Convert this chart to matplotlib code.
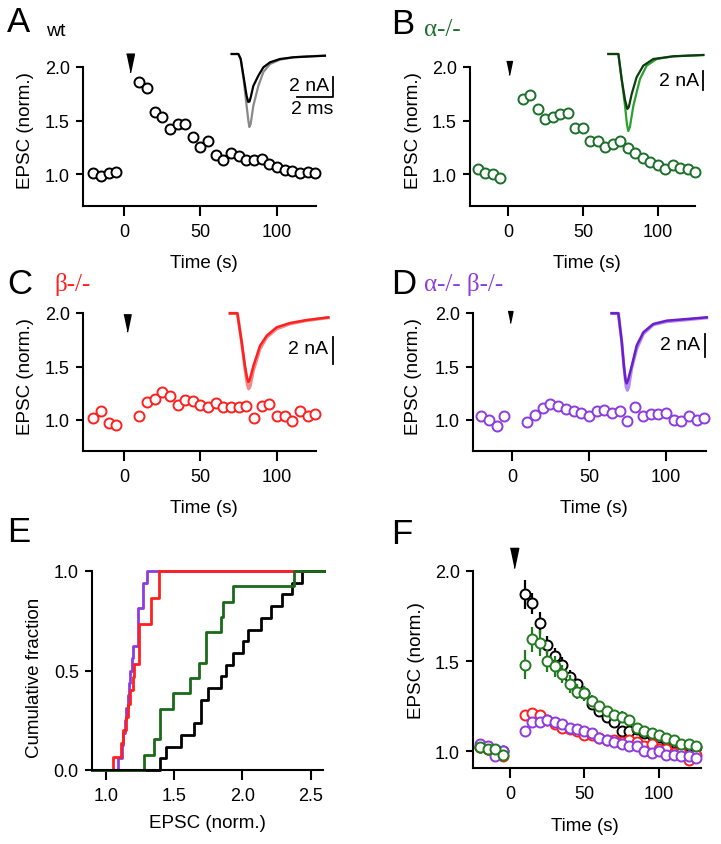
import numpy as np
import matplotlib.pyplot as plt
from matplotlib.ticker import FormatStrFormatter

plt.rcParams['font.family'] = ['Liberation Sans', 'DejaVu Sans']

W, H = 721, 845
fig = plt.figure(figsize=(W / 100, H / 100), dpi=100)

GREEN = '#1d6f2c'
RED = '#ff2020'
PURPLE = '#8c3ce0'

# ---- time course data (s, normalized EPSC) ----
t = [-20, -15, -10, -5, 10, 15, 20, 25, 30, 35, 40, 45, 50, 55, 60, 65, 70,
     75, 80, 85, 90, 95, 100, 105, 110, 115, 120, 125]

wt = [1.01, 0.98, 1.01, 1.02, 1.86, 1.80, 1.58, 1.53, 1.42, 1.47, 1.47, 1.35,
      1.25, 1.31, 1.18, 1.13, 1.20, 1.17, 1.13, 1.13, 1.14, 1.09, 1.07, 1.04,
      1.03, 1.01, 1.02, 1.01]
alpha_ko = [1.05, 1.01, 1.00, 0.96, 1.70, 1.74, 1.61, 1.51, 1.53, 1.56, 1.57,
            1.43, 1.43, 1.31, 1.31, 1.25, 1.28, 1.31, 1.24, 1.20, 1.15, 1.11,
            1.08, 1.05, 1.08, 1.06, 1.05, 1.02]
beta_ko = [1.02, 1.08, 0.97, 0.95, 1.04, 1.17, 1.20, 1.26, 1.22, 1.14, 1.19,
           1.18, 1.14, 1.12, 1.16, 1.12, 1.12, 1.12, 1.13, 1.02, 1.13, 1.15,
           1.04, 1.04, 0.99, 1.08, 1.04, 1.06]
dko = [1.04, 1.00, 0.94, 1.04, 0.98, 1.05, 1.11, 1.15, 1.13, 1.10, 1.08, 1.07,
       1.04, 1.08, 1.09, 1.07, 1.08, 0.99, 1.12, 1.04, 1.06, 1.06, 1.07, 1.00,
       0.99, 1.04, 1.00, 1.02]

# panel F averages
f_wt = [1.02, 1.01, 1.00, 1.00, 1.87, 1.82, 1.71, 1.59, 1.53, 1.48, 1.41, 1.37,
        1.32, 1.26, 1.22, 1.19, 1.16, 1.11, 1.11, 1.12, 1.10, 1.09, 1.08, 1.06,
        1.05, 1.03, 1.03, 1.02]
f_wt_err = [0.01, 0.01, 0.01, 0.01, 0.08, 0.06, 0.06, 0.05, 0.04, 0.04, 0.04,
            0.03, 0.03, 0.03, 0.03, 0.03, 0.03, 0.03, 0.03, 0.02, 0.02, 0.02,
            0.02, 0.02, 0.02, 0.02, 0.02, 0.02]
f_alpha = [1.02, 1.01, 1.01, 0.98, 1.48, 1.62, 1.60, 1.50, 1.47, 1.43, 1.37,
           1.33, 1.32, 1.28, 1.25, 1.22, 1.20, 1.19, 1.17, 1.13, 1.11, 1.10,
           1.09, 1.07, 1.06, 1.04, 1.04, 1.03]
f_alpha_err = [0.01, 0.01, 0.01, 0.01, 0.08, 0.07, 0.07, 0.06, 0.06, 0.05, 0.05,
               0.04, 0.04, 0.03, 0.03, 0.03, 0.03, 0.03, 0.02, 0.02, 0.02, 0.02,
               0.02, 0.02, 0.02, 0.02, 0.02, 0.02]
f_beta = [1.02, 1.01, 0.99, 0.97, 1.20, 1.21, 1.20, 1.17, 1.15, 1.13, 1.12, 1.11,
          1.09, 1.09, 1.07, 1.06, 1.06, 1.05, 1.06, 1.05, 1.03, 1.04, 1.01, 1.01,
          0.99, 0.99, 0.95, 0.98]
f_dko = [1.04, 1.03, 0.97, 1.00, 1.11, 1.16, 1.16, 1.17, 1.16, 1.15, 1.13, 1.12,
         1.11, 1.10, 1.07, 1.06, 1.05, 1.04, 1.03, 1.03, 1.00, 0.99, 1.00, 0.98,
         0.98, 0.97, 0.97, 0.96]

# panel E: per-cell potentiation values
e_wt = [1.395, 1.444, 1.554, 1.647, 1.695, 1.695, 1.749, 1.847, 1.878, 1.932,
        2.005, 2.04, 2.135, 2.21, 2.29, 2.36, 2.437]
e_alpha = [1.28, 1.35, 1.395, 1.395, 1.49, 1.615, 1.685, 1.735, 1.735, 1.845,
           1.86, 1.93, 2.38]
e_beta = [1.05, 1.11, 1.13, 1.15, 1.16, 1.18, 1.20, 1.21, 1.245, 1.245, 1.245,
          1.33, 1.33, 1.39, 1.39]
e_dko = [1.09, 1.12, 1.13, 1.14, 1.15, 1.16, 1.17, 1.18, 1.19, 1.20, 1.24, 1.24,
         1.24, 1.27, 1.27, 1.30]

# example EPSC traces (ms, nA)
trA_t1 = [0, 0.37, 0.5, 0.68, 0.83, 0.92, 0.98, 1.05, 1.11, 1.2, 1.48, 1.76, 2.13, 2.68, 3.42, 4.17, 5.18]
trA_i1 = [0, 0, -0.5, -2.8, -5.2, -6.6, -7.3, -7.0, -6.3, -5.2, -3.2, -1.8, -1.0, -0.57, -0.33, -0.23, -0.17]
trA_t0 = [0, 0.37, 0.5, 0.68, 0.83, 0.92, 0.99, 1.06, 1.2, 1.48, 1.76, 2.13, 2.68, 3.42, 5.18]
trA_i0 = [0, 0, -0.5, -2.5, -4.2, -4.8, -4.75, -4.3, -3.2, -2.17, -1.33, -0.83, -0.5, -0.33, -0.17]
trB_t1 = [0, 0.56, 0.74, 0.93, 1.04, 1.11, 1.2, 1.39, 1.76, 2.13, 2.69, 3.61, 5.28]
trB_i1 = [0, 0, -2.5, -5.2, -7.1, -7.7, -7.3, -5.2, -2.5, -1.17, -0.5, -0.23, -0.1]
trB_t0 = [0, 0.56, 0.74, 0.93, 1.06, 1.14, 1.3, 1.57, 1.94, 2.5, 3.61, 5.28]
trB_i0 = [0, 0, -2.5, -4.6, -5.5, -5.3, -4.0, -2.33, -1.17, -0.5, -0.23, -0.1]
trC_t1 = [0, 0.41, 0.65, 0.83, 0.96, 1.04, 1.12, 1.3, 1.67, 2.04, 2.59, 3.33, 4.26, 5.46]
trC_i1 = [0, 0, -2.2, -4.1, -5.3, -5.6, -5.4, -4.25, -2.64, -1.78, -1.16, -0.79, -0.54, -0.33]
trC_t0 = [0, 0.41, 0.65, 0.83, 0.95, 1.02, 1.1, 1.3, 1.67, 2.04, 2.59, 3.33, 4.26, 5.46]
trC_i0 = [0, 0, -2.15, -3.9, -4.8, -5.1, -4.9, -3.9, -2.4, -1.66, -1.04, -0.72, -0.5, -0.3]
trD_t1 = [0, 0.37, 0.56, 0.68, 0.8, 0.87, 0.95, 1.11, 1.39, 1.76, 2.31, 3.06, 4.17, 5.28]
trD_i1 = [0, 0, -2.5, -4.7, -6.4, -6.7, -6.4, -4.8, -3.1, -1.8, -1.0, -0.73, -0.57, -0.4]
trD_t0 = [0, 0.37, 0.56, 0.68, 0.77, 0.83, 0.91, 1.11, 1.39, 1.76, 2.31, 3.06, 4.17, 5.28]
trD_i0 = [0, 0, -2.5, -4.6, -5.8, -6.1, -5.8, -4.6, -2.8, -1.65, -0.93, -0.64, -0.5, -0.35]

TRI = [(-0.21, 0.5), (0.21, 0.5), (0, -0.5)]


def px_axes(l, top, r, b):
    return fig.add_axes([l / W, 1 - b / H, (r - l) / W, (b - top) / H])


def style(ax, xlim, ylim, xticks, yticks, fmt):
    ax.set_xlim(xlim)
    ax.set_ylim(ylim)
    ax.patch.set_alpha(0)
    for s in ['top', 'right']:
        ax.spines[s].set_visible(False)
    for s in ['left', 'bottom']:
        ax.spines[s].set_linewidth(1.5)
    ax.set_xticks(xticks)
    ax.set_yticks(yticks)
    ax.yaxis.set_major_formatter(FormatStrFormatter(fmt))
    ax.tick_params(axis='both', width=1.5, labelsize=13)
    ax.tick_params(axis='y', length=5, pad=4.5)
    ax.tick_params(axis='x', length=7, pad=5)


def inset(x0, y0, sx, sy, tlim, ilim):
    ax = px_axes(x0 + sx * tlim[0], y0 - sy * ilim[1],
                 x0 + sx * tlim[1], y0 - sy * ilim[0])
    ax.set_xlim(tlim)
    ax.set_ylim(ilim)
    ax.axis('off')
    return ax


def ftext(x, y, s, **kw):
    fig.text(x / W, 1 - y / H, s, **kw)


def box_ylo(box):
    # 2.0 at top of box, 107 px per unit
    return 2.0 - (box[3] - box[1]) / 107.0


def time_panel(box, xlim, vals, color, arrow, ylab_x):
    ax = px_axes(*box)
    style(ax, xlim, (box_ylo(box), 2.0), [0, 50, 100], [1.0, 1.5, 2.0], '%.1f')
    ax.plot(t, vals, 'o', ms=7.2, mfc='white', mec=color, mew=1.4, clip_on=False)
    ax.plot([arrow[0]], [arrow[1]], marker=TRI, ms=arrow[2], color='k',
            ls='none', clip_on=False)
    ax.set_xlabel('Time (s)', fontsize=13.5)
    ax.set_ylabel('EPSC (norm.)', fontsize=13.5)
    ax.xaxis.set_label_coords(0.52, -0.345)
    ax.yaxis.set_label_coords(ylab_x, 0.55)
    return ax


# ---- A-D ----
time_panel((83, 68, 316, 207), (-26.8, 125.5), wt, 'k', (3.9, 2.04, 13.5), -0.21)
time_panel((470, 68, 695, 207), (-25.3, 124.7), alpha_ko, GREEN, (0.7, 1.99, 10), -0.213)
time_panel((83, 314, 316, 452), (-26.8, 125.5), beta_ko, RED, (2.0, 1.91, 12.5), -0.21)
time_panel((473, 314, 706, 452), (-25.3, 126), dko, PURPLE, (-1.3, 1.96, 8.5), -0.22)

# insets
ia = inset(231.7, 55, 18, 10, (-0.5, 6.0), (-8.0, 0.5))
ia.plot(trA_t1, trA_i1, color='#8a8a8a', lw=1.6, clip_on=False)
ia.plot(trA_t0, trA_i0, color='k', lw=1.6, clip_on=False)
ia.plot([3.63, 5.63, 5.63], [-4.33, -4.33, -2.33], color='k', lw=1.3, clip_on=False)
ia.text(5.4, -3.15, '2 nA', ha='right', va='center', fontsize=14)
ia.text(4.45, -5.4, '2 ms', ha='center', va='center', fontsize=14)

ib = inset(608.3, 55, 18, 10, (-0.5, 6.0), (-8.5, 0.5))
ib.plot(trB_t1, trB_i1, color='#2ca02c', lw=1.6, clip_on=False)
ib.plot(trB_t0, trB_i0, color='#0f3a12', lw=1.6, clip_on=False)
ib.plot([5.26, 5.26], [-1.7, -3.6], color='k', lw=1.3, clip_on=False)
ib.text(5.05, -2.6, '2 nA', ha='right', va='center', fontsize=14)

ic = inset(230, 314.3, 18, 13.5, (-0.5, 6.0), (-6.5, 0.5))
ic.plot(trC_t1, trC_i1, color='#f08a8a', lw=2.2, clip_on=False)
ic.plot(trC_t0, trC_i0, color=RED, lw=1.8, clip_on=False)
ic.plot([5.72, 5.72], [-1.76, -3.76], color='k', lw=1.3, clip_on=False)
ic.text(5.44, -2.6, '2 nA', ha='right', va='center', fontsize=14)

idd = inset(611.7, 314.3, 18, 11.5, (-0.5, 6.0), (-7.5, 0.5))
idd.plot(trD_t1, trD_i1, color='#b58cf0', lw=2.2, clip_on=False)
idd.plot(trD_t0, trD_i0, color='#6a1fc8', lw=1.8, clip_on=False)
idd.plot([5.18, 5.18], [-1.8, -3.8], color='k', lw=1.3, clip_on=False)
idd.text(4.92, -2.7, '2 nA', ha='right', va='center', fontsize=14)

# ---- E ----
axe = px_axes(92, 572, 323, 771)
style(axe, (0.9, 2.59), (0, 1), [1.0, 1.5, 2.0, 2.5], [0.0, 0.5, 1.0], '%.1f')
axe.xaxis.set_major_formatter(FormatStrFormatter('%.1f'))
for vals, col in [(e_dko, PURPLE), (e_beta, RED), (e_wt, 'k'), (e_alpha, '#1a6a1a')]:
    xs = [0.9] + sorted(vals) + [2.6]
    ys = [0] + list(np.arange(1, len(vals) + 1) / len(vals)) + [1]
    axe.plot(xs, ys, drawstyle='steps-post', color=col, lw=2, clip_on=False)
axe.set_xlabel('EPSC (norm.)', fontsize=13.5)
axe.set_ylabel('Cumulative fraction', fontsize=13.5)
axe.xaxis.set_label_coords(0.50, -0.22)
axe.yaxis.set_label_coords(-0.21, 0.47)

# ---- F ----
axf = px_axes(473, 572, 701, 769)
style(axf, (-24.8, 128.2), (0.906, 2.0), [0, 50, 100], [1.0, 1.5, 2.0], '%.1f')
for vals, err, col in [(f_wt, f_wt_err, 'k'), (f_beta, None, RED),
                       (f_dko, None, PURPLE), (f_alpha, f_alpha_err, '#237a23')]:
    if err is not None:
        axf.errorbar(t, vals, yerr=err, fmt='none', ecolor=col, elinewidth=1.6,
                     capsize=0, clip_on=False)
    axf.plot(t, vals, 'o', ms=7.2, mfc='white', mec=col, mew=1.4, clip_on=False)
axf.plot([2.7], [2.07], marker=TRI, ms=14.5, color='k', ls='none', clip_on=False)
axf.set_xlabel('Time (s)', fontsize=13.5)
axf.set_ylabel('EPSC (norm.)', fontsize=13.5)
axf.xaxis.set_label_coords(0.49, -0.25)
axf.yaxis.set_label_coords(-0.21, 0.55)

# ---- panel letters and genotype labels ----
for x, y, s in [(7, 22, 'A'), (391, 24, 'B'), (7, 284, 'C'), (391, 284, 'D'),
                (7, 532, 'E'), (391, 534, 'F')]:
    ftext(x, y, s, fontsize=25, ha='left', va='center')
ftext(46, 31, 'wt', fontsize=14, ha='left', va='center')
ftext(424, 30, 'α-/-', fontsize=18, ha='left', va='center', color=GREEN,
      family=['Liberation Serif', 'DejaVu Serif'])
ftext(54, 284, 'β-/-', fontsize=18, ha='left', va='center', color=RED,
      family=['Liberation Serif', 'DejaVu Serif'])
ftext(424, 285, 'α-/- β-/-', fontsize=18, ha='left', va='center', color=PURPLE,
      family=['Liberation Serif', 'DejaVu Serif'])

fig.savefig('out.png', dpi=100)
